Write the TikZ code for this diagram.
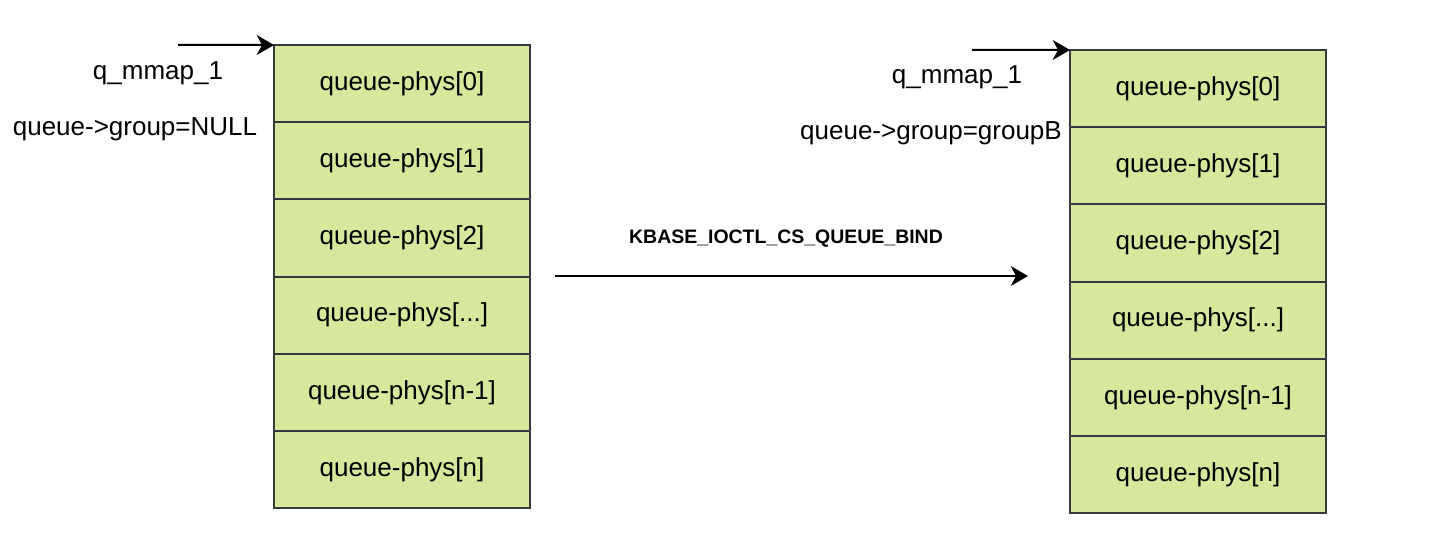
\documentclass[tikz,border=0pt]{standalone}
\usepackage{fontspec}
\setmainfont{Liberation Sans}
\usetikzlibrary{arrows.meta}
\definecolor{cellgreen}{RGB}{213,232,155}
\definecolor{cellline}{RGB}{54,57,61}
\newcommand{\celldots}{...}
\tikzset{
	cell/.style={draw=cellline, fill=cellgreen, line width=1.5pt, minimum width=192pt, minimum height=57.9pt, inner sep=0pt, outer sep=0pt, font=\fontsize{19.5}{23}\selectfont},
	lbl/.style={inner sep=0pt, font=\fontsize{19.5}{23}\selectfont},
	ptr/.style={-{Stealth[length=13pt,width=15pt,inset=4pt,line width=0pt]}, line width=1.5pt},
}
\begin{document}
\begin{tikzpicture}[x=0.75pt, y=-0.75pt]
		\useasboundingbox (0,0) rectangle (1441,535);
		
		% stack before the bind
		\foreach \lab [count=\i from 0] in {0,1,2,\celldots,n-1,n}
			\node[cell] (L\i) at (402, {45+77.2*(\i+0.5)}) {queue-phys[\lab]};
		
		% stack after the bind
		\foreach \lab [count=\i from 0] in {0,1,2,\celldots,n-1,n}
			\node[cell] (R\i) at (1198, {50+77.2*(\i+0.5)}) {queue-phys[\lab]};
		
		\node[lbl] (lmap) at (158,73) {q\_mmap\_1};
		\node[lbl] (lgrp) at (135,129) {queue->group=NULL};
		\coordinate (lin) at (178,45);
		\draw[ptr] (lin) -- (L0.north west);
		
		\node[lbl] (rmap) at (957,77) {q\_mmap\_1};
		\node[lbl] (rgrp) at (931,133) {queue->group=groupB};
		\coordinate (rin) at (972,50);
		\draw[ptr] (rin) -- (R0.north west);
		
		\coordinate (bindfrom) at (555,276);
		\coordinate (bindto) at (1028,276);
		\node[inner sep=0pt, font=\bfseries\fontsize{14.6}{17}\selectfont] (bind) at (786,239) {KBASE\_IOCTL\_CS\_QUEUE\_BIND};
		\draw[ptr] (bindfrom) -- (bindto);
	\end{tikzpicture}
\end{document}
